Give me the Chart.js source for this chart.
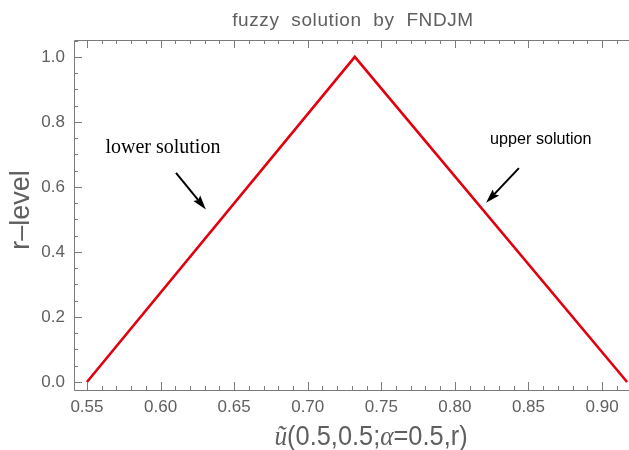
<!DOCTYPE html>
<html>
<head>
<meta charset="utf-8">
<script src="https://cdn.jsdelivr.net/npm/chart.js@4"></script>
<style>
  body{ margin:0; background:#fff; }
  #wrap{ width:629px; height:450px; }
</style>
</head>
<body>
<div id="wrap"><canvas id="fuzzyChart" width="629" height="450"></canvas></div>
<script>
// ================= DATA =================
const rLevels = [0, 1, 0];
const uValues = [0.55, 0.732, 0.917];   // lower branch up to the peak, then upper branch
const xTicks = [0.55, 0.60, 0.65, 0.70, 0.75, 0.80, 0.85, 0.90];
const yTicks = [0.0, 0.2, 0.4, 0.6, 0.8, 1.0];

const chartTitle = "fuzzy solution by FNDJM";
const yTitle = "r\u2013level";

// annotation text + arrows, given in data units
const notes = [
  { text: "lower solution", x: 0.6016, y: 0.72, sx: 1,
    font: "20px 'Liberation Serif', 'Times New Roman', serif",
    from: [0.6105, 0.643], to: [0.6308, 0.531] },
  { text: "upper solution", x: 0.8584, y: 0.745, sx: 0.95,
    font: "17px 'Liberation Sans', Arial, sans-serif",
    from: [0.8435, 0.658], to: [0.8212, 0.551] }
];

const SANS = "'Liberation Sans', Arial, sans-serif";
const GRAY = "#5f5f5f";
const FRAME = "#7a7a7a";

// text squeezed horizontally, like the narrow font of the original
function squeezeText(ctx, text, x, y, sx){
  ctx.save();
  ctx.translate(x, y);
  ctx.scale(sx, 1);
  ctx.fillText(text, 0, 0);
  ctx.restore();
}

// ================= FRAME + TEXT PLUGIN =================
const framePlugin = {
  id: "frame",
  afterDraw(chart){
    const ctx = chart.ctx;
    const a = chart.chartArea;
    const xs = chart.scales.x;
    const ys = chart.scales.y;

    ctx.save();
    ctx.strokeStyle = FRAME;
    ctx.lineWidth = 1;

    // frame lines (left, bottom, top)
    ctx.beginPath();
    ctx.moveTo(a.left + 0.5, a.top + 0.5);
    ctx.lineTo(a.left + 0.5, a.bottom + 0.5);
    ctx.lineTo(a.right, a.bottom + 0.5);
    ctx.moveTo(a.left + 0.5, a.top + 0.5);
    ctx.lineTo(a.right, a.top + 0.5);
    ctx.stroke();

    // x ticks, major every 0.05, minor every 0.01
    ctx.beginPath();
    for(let i = 54; i <= 92; i++){
      const v = i / 100;
      const px = Math.round(xs.getPixelForValue(v)) + 0.5;
      if(px < a.left || px > a.right) continue;
      const len = (i % 5 === 0) ? 8 : 4;
      ctx.moveTo(px, a.bottom);
      ctx.lineTo(px, a.bottom - len);
      ctx.moveTo(px, a.top);
      ctx.lineTo(px, a.top + len);
    }
    // y ticks, major every 0.2, minor every 0.05
    for(let i = 0; i <= 21; i++){
      const v = i * 0.05;
      const py = Math.round(ys.getPixelForValue(v)) + 0.5;
      const len = (i % 4 === 0) ? 8 : 4;
      ctx.moveTo(a.left, py);
      ctx.lineTo(a.left + len, py);
    }
    ctx.stroke();

    // title
    ctx.fillStyle = GRAY;
    ctx.textAlign = "center";
    ctx.textBaseline = "middle";
    ctx.font = "19px " + SANS;
    ctx.letterSpacing = "0.6px";
    squeezeText(ctx, chartTitle.split(" ").join("  "), 353, 21, 1);
    ctx.letterSpacing = "0px";

    // y title
    ctx.save();
    ctx.translate(22, 210);
    ctx.rotate(-Math.PI / 2);
    ctx.font = "27px " + SANS;
    ctx.fillText(yTitle, 0, 0);
    ctx.restore();

    // x title with italic parts
    const parts = [
      { t: "\u0169", it: true },
      { t: "(0.5,0.5;", it: false },
      { t: "\u03b1", it: true },
      { t: "=0.5,r)", it: false }
    ];
    const xsq = 0.94;
    const fN = "27px " + SANS;
    const fI = "italic 27px 'Liberation Serif', serif";
    let total = 0;
    parts.forEach(p => { ctx.font = p.it ? fI : fN; p.w = ctx.measureText(p.t).width * xsq; total += p.w; });
    let x = 371 - total / 2;
    ctx.textAlign = "left";
    ctx.textBaseline = "alphabetic";
    parts.forEach(p => {
      ctx.font = p.it ? fI : fN;
      squeezeText(ctx, p.t, x, 445, xsq);
      x += p.w;
    });

    // annotations
    ctx.fillStyle = "#000";
    ctx.strokeStyle = "#000";
    ctx.textAlign = "center";
    ctx.textBaseline = "middle";
    notes.forEach(n => {
      ctx.font = n.font;
      squeezeText(ctx, n.text, xs.getPixelForValue(n.x), ys.getPixelForValue(n.y), n.sx);
      const x1 = xs.getPixelForValue(n.from[0]), y1 = ys.getPixelForValue(n.from[1]);
      const x2 = xs.getPixelForValue(n.to[0]),   y2 = ys.getPixelForValue(n.to[1]);
      const ang = Math.atan2(y2 - y1, x2 - x1);
      const head = 15;
      ctx.lineWidth = 2;
      ctx.beginPath();
      ctx.moveTo(x1, y1);
      ctx.lineTo(x2 - Math.cos(ang) * head * 0.8, y2 - Math.sin(ang) * head * 0.8);
      ctx.stroke();
      ctx.beginPath();
      ctx.moveTo(x2, y2);
      ctx.lineTo(x2 - head * Math.cos(ang - 0.3), y2 - head * Math.sin(ang - 0.3));
      ctx.lineTo(x2 - head * 0.8 * Math.cos(ang), y2 - head * 0.8 * Math.sin(ang));
      ctx.lineTo(x2 - head * Math.cos(ang + 0.3), y2 - head * Math.sin(ang + 0.3));
      ctx.closePath();
      ctx.fill();
    });

    ctx.restore();
  }
};

// ================= CHART =================
window.onload = () => {

  const points = uValues.map((u, i) => ({ x: u, y: rLevels[i] }));

  new Chart(document.getElementById("fuzzyChart"), {
    type: "scatter",
    data: {
      datasets: [{
        data: points,
        showLine: true,
        borderColor: "#e2000e",
        borderWidth: 2.6,
        pointRadius: 0,
        fill: false,
        tension: 0
      }]
    },
    options: {
      responsive: false,
      animation: false,
      devicePixelRatio: 1,
      layout: { padding: { top: 40, right: 0, left: 0, bottom: 0 } },
      plugins: {
        legend: { display: false },
        tooltip: { enabled: false }
      },
      scales: {
        x: {
          type: "linear",
          min: 0.5412,
          max: 0.9183,
          afterBuildTicks: s => { s.ticks = xTicks.map(v => ({ value: v })); },
          afterFit: s => { s.height = 60; },
          grid: { display: false, drawTicks: false },
          border: { display: false },
          ticks: {
            padding: 7,
            color: GRAY,
            font: { family: SANS, size: 17 },
            callback: v => v.toFixed(2),
            maxRotation: 0,
            autoSkip: false
          }
        },
        y: {
          type: "linear",
          min: -0.0246,
          max: 1.052,
          afterBuildTicks: s => { s.ticks = yTicks.map(v => ({ value: v })); },
          afterFit: s => { s.width = 74; },
          grid: { display: false, drawTicks: false },
          border: { display: false },
          ticks: {
            padding: 9,
            color: GRAY,
            font: { family: SANS, size: 17 },
            callback: v => v.toFixed(1)
          }
        }
      }
    },
    plugins: [framePlugin]
  });

};
</script>
</body>
</html>
